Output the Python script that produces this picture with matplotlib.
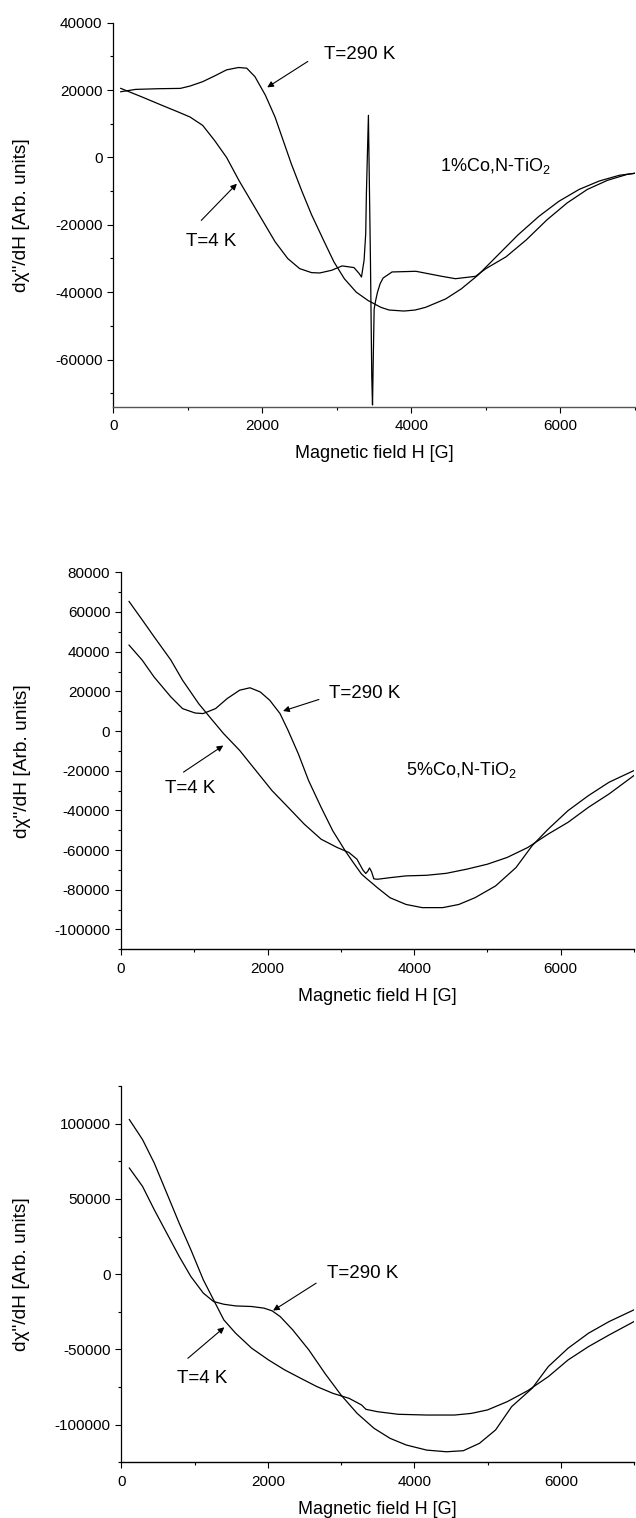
import matplotlib
matplotlib.use('Agg')
import matplotlib.pyplot as plt
from matplotlib.ticker import MultipleLocator, FuncFormatter

plt.rcParams['font.family'] = ['Liberation Sans', 'DejaVu Sans']
plt.rcParams['axes.unicode_minus'] = False
plt.rcParams['mathtext.fontset'] = 'custom'
plt.rcParams['mathtext.rm'] = 'Liberation Sans'
plt.rcParams['mathtext.it'] = 'Liberation Sans:italic'

# ---------------- data ----------------
# Panel 1: 1%Co,N-TiO2
h1_290 = [100, 300, 600, 900, 1030, 1200, 1360, 1520, 1680, 1790, 1900, 2040, 2170, 2280, 2390,
          2530, 2660, 2830, 2960, 3100, 3260, 3420, 3590, 3700, 3900, 4050, 4190, 4460, 4670,
          4890, 5160, 5430, 5710, 5980, 6250, 6520, 6790, 7000]
chi1_290 = [19500, 20200, 20400, 20500, 21200, 22500, 24200, 26000, 26700, 26500, 24000, 18500,
            12000, 5000, -2000, -10000, -17000, -25000, -31000, -36000, -40000, -42500, -44500,
            -45300, -45600, -45300, -44500, -42000, -39000, -35000, -29000, -23000, -17500,
            -13000, -9500, -7000, -5300, -4700]
h1_4 = [100, 380, 650, 870, 1030, 1200, 1360, 1520, 1690, 1850, 2010, 2170, 2340, 2500, 2660,
        2770, 2930, 3070, 3230, 3300, 3330, 3365, 3387, 3396, 3423, 3450, 3468, 3478, 3488, 3500,
        3520, 3545, 3580, 3620, 3740, 4060, 4410, 4590, 4860, 5000, 5270, 5540, 5820, 6090, 6360,
        6630, 6900, 7000]
chi1_4 = [20500, 18000, 15500, 13500, 12000, 9500, 5000, 0, -7000, -13000, -19000, -25000,
          -30000, -33000, -34200, -34300, -33500, -32200, -32700, -34500, -35500, -30500, -22600,
          -10700, 12500, -30000, -65000, -73500, -60000, -45000, -42500, -40000, -37500, -35800,
          -34000, -33800, -35300, -36000, -35300, -33000, -29500, -24500, -18500, -13500, -9500,
          -6800, -5000, -4700]

# Panel 2: 5%Co,N-TiO2
h2_290 = [110, 290, 450, 680, 840, 1010, 1120, 1290, 1450, 1620, 1760, 1900, 2030, 2170, 2280,
          2420, 2560, 2730, 2890, 3060, 3170, 3280, 3340, 3500, 3670, 3890, 4110, 4390, 4610,
          4830, 5110, 5390, 5610, 5830, 6100, 6380, 6660, 7000]
chi2_290 = [43300, 35700, 27300, 17200, 11300, 9100, 8800, 11300, 16400, 20600, 21800, 19700,
            15500, 8800, 300, -11500, -25000, -38400, -50300, -60400, -66300, -72000, -74000,
            -79000, -84000, -87400, -89000, -89000, -87400, -84000, -78100, -68800, -57800,
            -49400, -40100, -32500, -25800, -19900]
h2_4 = [110, 290, 450, 680, 840, 1060, 1230, 1400, 1620, 1840, 2060, 2280, 2500, 2730, 2950,
        3110, 3220, 3300, 3340, 3370, 3391, 3420, 3450, 3500, 3670, 3890, 4170, 4440, 4720, 5000,
        5270, 5550, 5830, 6100, 6380, 6660, 7000]
chi2_4 = [65300, 56000, 47600, 35800, 25600, 13800, 6200, -1300, -9800, -19900, -30000, -38400,
          -46900, -54500, -58700, -61200, -64600, -70000, -71800, -70500, -69000, -71000, -74500,
          -74700, -73900, -73000, -72700, -71700, -69600, -67100, -63700, -58700, -51900, -46000,
          -38400, -31700, -22400]

# Panel 3
h3_290 = [110, 290, 450, 620, 790, 950, 1120, 1260, 1400, 1560, 1780, 1950, 2060, 2170, 2340,
          2560, 2780, 3000, 3220, 3450, 3670, 3890, 4170, 4440, 4670, 4890, 5110, 5330, 5610,
          5830, 6100, 6380, 6660, 7000]
chi3_290 = [70500, 58300, 42800, 27300, 11800, -1600, -12600, -18200, -20000, -21100, -21500,
            -22600, -24400, -28200, -37000, -50300, -65900, -80300, -92500, -102400, -109100,
            -113500, -116900, -118000, -117300, -112400, -103500, -88000, -75800, -61400, -49200,
            -39200, -31500, -23700]
h3_4 = [110, 290, 450, 620, 790, 950, 1120, 1260, 1400, 1560, 1780, 2010, 2230, 2450, 2670,
        2890, 3110, 3280, 3340, 3500, 3780, 4170, 4550, 4780, 5000, 5270, 5550, 5830, 6100, 6380,
        6660, 7000]
chi3_4 = [102700, 89400, 73800, 53900, 33900, 16200, -3800, -17100, -30400, -39200, -49200,
          -57000, -63600, -69200, -74700, -79200, -82500, -86900, -89800, -91400, -93100, -93600,
          -93600, -92500, -90200, -84700, -77400, -68100, -57000, -48100, -40400, -31500]

x_label = 'Magnetic field H [G]'
y_label = 'd\u03c7"/dH [Arb. units]'
sample_labels = ['1%Co,N-TiO$_2$', '5%Co,N-TiO$_2$', None]
label_290 = 'T=290 K'
label_4 = 'T=4 K'

# ---------------- layout ----------------
W, H = 636, 1518
fig = plt.figure(figsize=(W / 100, H / 100), dpi=100)


def rect(l, r, t, b):
    return [l / W, 1 - b / H, (r - l) / W, (b - t) / H]


panels = [
    dict(px=(113.3, 635.0, 22.7, 406.7), ylim=(-74000, 40000), major=20000, minor=10000,
         data=[(h1_290, chi1_290), (h1_4, chi1_4)],
         t290=(2830, 30500), a290=((2610, 28500), (2065, 20800)),
         t4=(980, -25000), a4=((1180, -18700), (1658, -7800)),
         sample=(4380, -2500)),
    dict(px=(121.0, 634.0, 572.3, 949.3), ylim=(-110000, 80000), major=20000, minor=10000,
         data=[(h2_290, chi2_290), (h2_4, chi2_4)],
         t290=(2840, 18900), a290=((2700, 15900), (2211, 10100)),
         t4=(600, -29200), a4=((853, -20700), (1396, -7300)),
         sample=(3890, -19600)),
    dict(px=(121.3, 634.0, 1086.0, 1462.3), ylim=(-125000, 125000), major=50000, minor=25000,
         data=[(h3_290, chi3_290), (h3_4, chi3_4)],
         t290=(2810, 200), a290=((2660, -6000), (2072, -24200)),
         t4=(760, -69200), a4=((909, -55900), (1407, -35300)),
         sample=None),
]

fmt = FuncFormatter(lambda v, p: '%d' % int(round(v)))

for i, p in enumerate(panels):
    l, r, t, b = p['px']
    ax = fig.add_axes(rect(l, r, t, b))
    for hh, cc in p['data']:
        ax.plot(hh, cc, color='black', lw=0.9)
    ax.set_xlim(0, 7000)
    ax.set_ylim(*p['ylim'])
    ax.spines['top'].set_visible(False)
    ax.spines['right'].set_visible(False)
    ax.spines['left'].set_linewidth(0.9)
    ax.spines['bottom'].set_linewidth(1.0)
    if i == 0:
        ax.spines['bottom'].set_color('#555555')
    ax.xaxis.set_major_locator(MultipleLocator(2000))
    ax.xaxis.set_minor_locator(MultipleLocator(1000))
    ax.yaxis.set_major_locator(MultipleLocator(p['major']))
    ax.yaxis.set_minor_locator(MultipleLocator(p['minor']))
    ax.xaxis.set_major_formatter(fmt)
    ax.yaxis.set_major_formatter(fmt)
    ax.tick_params(which='major', direction='out', length=4.2, width=0.8, labelsize=11,
                   colors='black')
    ax.tick_params(which='minor', direction='out', length=2.4, width=0.8)
    ax.tick_params(axis='x', which='major', pad=5)
    ax.tick_params(axis='y', which='major', pad=3.5)

    wpx, hpx = r - l, b - t
    ax.set_xlabel(x_label, fontsize=13)
    ax.xaxis.label.set_va('baseline')
    ax.xaxis.set_label_coords(0.5, -51.5 / hpx)
    ax.set_ylabel(y_label, fontsize=13.8)
    ax.yaxis.label.set_va('center')
    ax.yaxis.set_label_coords((22 - l) / wpx, 0.5)

    ax.text(p['t290'][0], p['t290'][1], label_290, fontsize=13.5, ha='left', va='center')
    ax.text(p['t4'][0], p['t4'][1], label_4, fontsize=13.5, ha='left', va='center')
    for tail, head in (p['a290'], p['a4']):
        ax.annotate('', xy=head, xytext=tail,
                    arrowprops=dict(arrowstyle='-|>', color='black', lw=0.8,
                                    mutation_scale=9, shrinkA=0, shrinkB=0))
    if p['sample'] is not None:
        ax.text(p['sample'][0], p['sample'][1], sample_labels[i], fontsize=13,
                ha='left', va='center')

fig.savefig('out.png', dpi=100)
